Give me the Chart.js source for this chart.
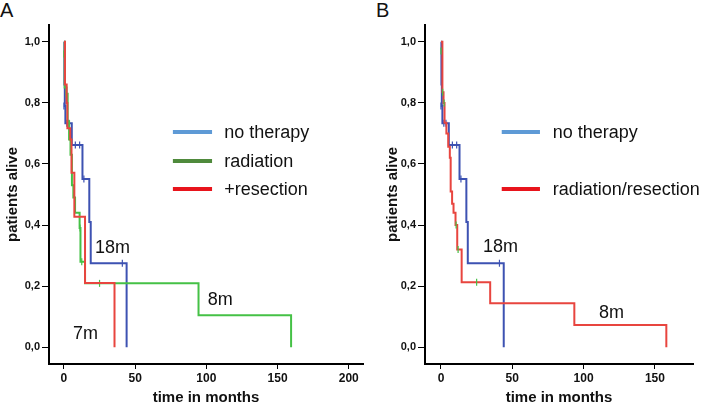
<!DOCTYPE html>
<html>
<head>
<meta charset="utf-8">
<script src="https://cdn.jsdelivr.net/npm/chart.js@4.4.0/dist/chart.umd.min.js"></script>
<style>
  html, body { margin: 0; padding: 0; background: #fff; overflow: hidden; }
  body { width: 707px; height: 405px; position: relative; font-family: "Liberation Sans", Arial, sans-serif; }
  canvas { position: absolute; top: 0; }
  #chartA { left: 0; }
  #chartB { left: 360px; }
  .tag { position: absolute; top: 0; font-size: 20px; line-height: 20px; color: #111; }
</style>
</head>
<body>
<div class="tag" style="left:0">A</div>
<div class="tag" style="left:376px">B</div>
<canvas id="chartA" width="370" height="405"></canvas>
<canvas id="chartB" width="347" height="405"></canvas>
<script>
/* ── Kaplan-Meier data (months / fraction alive) ── */

// no therapy (same curve in both panels)
const noTherapyTime = [0, 0.3, 0.6, 1, 5.5, 13, 17.8, 18.8, 44];
const noTherapySurv = [1.0, 0.86, 0.79, 0.733, 0.662, 0.551, 0.41, 0.275, 0];
const noTherapyCensTime = [0, 2, 3.5, 8, 11, 14, 41];
const noTherapyCensSurv = [0.79, 0.733, 0.733, 0.662, 0.662, 0.551, 0.275];

// panel A: radiation
const radiationTime = [0, 0.5, 1.8, 2.6, 3.6, 4.6, 5.6, 6.6, 7.8, 11, 11.6, 14.8, 94.5, 159.5];
const radiationSurv = [1.0, 0.85, 0.83, 0.74, 0.68, 0.63, 0.53, 0.49, 0.44, 0.39, 0.28, 0.209, 0.105, 0];
const radiationCensTime = [0, 1.5, 11.3, 12.5, 25];
const radiationCensSurv = [0.96, 0.83, 0.39, 0.28, 0.209];

// panel A: +resection
const resectionTime = [0, 0.7, 1.9, 2.4, 4.4, 5.3, 7.3, 14.8, 35.5];
const resectionSurv = [1.0, 0.86, 0.80, 0.717, 0.68, 0.571, 0.427, 0.21, 0];

// panel B: radiation/resection
const combinedTime = [0, 1, 1.8, 2.5, 3.8, 5.1, 6.2, 6.8, 7.8, 8.8, 10.2, 11.4, 14.5, 34.5, 93.5, 158];
const combinedSurv = [1.0, 0.835, 0.80, 0.735, 0.70, 0.656, 0.62, 0.51, 0.47, 0.44, 0.40, 0.32, 0.213, 0.144, 0.073, 0];
const combinedCensTime = [0, 1.2, 2.2, 10.6, 12, 25];
const combinedCensSurv = [0.97, 0.835, 0.80, 0.40, 0.32, 0.213];

// tick labels
const xTicksA = [0, 50, 100, 150, 200];
const xTicksB = [0, 50, 100, 150];
const yTicks  = [0, 0.2, 0.4, 0.6, 0.8, 1.0];

// legend + annotation texts
const legendA = ['no therapy', 'radiation', '+resection'];
const legendB = ['no therapy', 'radiation/resection'];
const notesA  = ['18m', '8m', '7m'];
const notesB  = ['18m', '8m'];

/* ── Colours ── */
const C = {
  blue:     '#3d52b2',
  green:    '#45c146',
  red:      '#e8453f',
  legBlue:  '#5e9ad6',
  legGreen: '#4f8a3c',
  legRed:   '#e8141c',
  ink:      '#111111',
};
const FONT = '"Liberation Sans", Arial, sans-serif';

function pts(t, s) { return t.map((v, i) => ({ x: v, y: s[i] })); }

// KM step: stay at previous level until the event time, then drop
function curve(label, t, s, color, order) {
  return {
    label, data: pts(t, s), borderColor: color, borderWidth: 2,
    stepped: 'before', pointRadius: 0, fill: false, order,
  };
}

function censor(t, s, color, order) {
  return {
    type: 'scatter', data: pts(t, s), showLine: false,
    pointStyle: 'line', rotation: 90, pointRadius: 3.5,
    borderColor: color, borderWidth: 1.2, order,
  };
}

/* ── Legend lines + text annotations drawn in data coordinates ── */
const panelText = {
  id: 'panelText',
  afterDatasetsDraw(chart, args, opts) {
    const { ctx } = chart;
    const x = chart.scales.x, y = chart.scales.y;
    ctx.save();
    ctx.font = '18px ' + FONT;
    ctx.textBaseline = 'middle';
    ctx.textAlign = 'left';
    (opts.legend || []).forEach(it => {
      const py = y.getPixelForValue(it.y);
      ctx.strokeStyle = it.color;
      ctx.lineWidth = 4;
      ctx.beginPath();
      ctx.moveTo(x.getPixelForValue(it.x0), py);
      ctx.lineTo(x.getPixelForValue(it.x1), py);
      ctx.stroke();
      ctx.fillStyle = C.ink;
      ctx.fillText(it.text, x.getPixelForValue(it.tx), py + 1);
    });
    (opts.notes || []).forEach(n => {
      ctx.fillStyle = C.ink;
      ctx.fillText(n.text, x.getPixelForValue(n.x), y.getPixelForValue(n.y));
    });
    ctx.restore();
  }
};

function axes(xMin, xMax, xTicks, yWidth, yTitlePad) {
  const tickFont = { family: FONT, size: 12, weight: 'bold' };
  const titleFont = { family: FONT, size: 15, weight: 'bold', lineHeight: 1 };
  return {
    x: {
      type: 'linear', min: xMin, max: xMax,
      afterBuildTicks: s => { s.ticks = xTicks.map(v => ({ value: v })); },
      afterFit: s => { s.height = 41; },
      ticks: { color: C.ink, font: tickFont, padding: 2, maxRotation: 0 },
      grid: { display: true, drawOnChartArea: false, drawTicks: true, tickLength: 5, color: '#000', lineWidth: 1 },
      border: { display: true, color: '#000', width: 2 },
      title: { display: true, text: 'time in months', color: C.ink, font: titleFont, padding: { top: 0, bottom: 0 } },
    },
    y: {
      type: 'linear', min: -0.055, max: 1.055,
      afterBuildTicks: s => { s.ticks = yTicks.map(v => ({ value: v })); },
      afterFit: s => { s.width = yWidth; },
      ticks: { color: C.ink, font: { family: FONT, size: 11, weight: 'bold' }, padding: 2,
               callback: v => v.toFixed(1).replace('.', ',') },
      grid: { display: true, drawOnChartArea: false, drawTicks: true, tickLength: 7, color: '#000', lineWidth: 1 },
      border: { display: true, color: '#000', width: 2 },
      title: { display: true, text: 'patients alive', color: C.ink, font: titleFont, padding: { top: yTitlePad, bottom: 0 } },
    },
  };
}

function makePanel(id, datasets, scales, padRight, text) {
  return new Chart(document.getElementById(id), {
    type: 'line',
    data: { datasets },
    options: {
      responsive: false, animation: false, devicePixelRatio: 1,
      layout: { padding: { left: 0, top: 25, right: padRight, bottom: 0 } },
      plugins: { legend: { display: false }, tooltip: { enabled: false }, panelText: text },
      scales,
    },
    plugins: [panelText],
  });
}

/* ── Panel A ── */
makePanel('chartA', [
  curve(legendA[2], resectionTime, resectionSurv, C.red, 1),
  censor(radiationCensTime, radiationCensSurv, C.green, 2),
  curve(legendA[1], radiationTime, radiationSurv, C.green, 3),
  censor(noTherapyCensTime, noTherapyCensSurv, C.blue, 4),
  curve(legendA[0], noTherapyTime, noTherapySurv, C.blue, 5),
], axes(-10.5, 210, xTicksA, 49, 5), 7, {
  legend: [
    { text: legendA[0], color: C.legBlue,  x0: 76.5, x1: 104, tx: 112.5, y: 0.705 },
    { text: legendA[1], color: C.legGreen, x0: 76.5, x1: 104, tx: 112.5, y: 0.61 },
    { text: legendA[2], color: C.legRed,   x0: 76.5, x1: 104, tx: 112.5, y: 0.518 },
  ],
  notes: [
    { text: notesA[0], x: 21.8, y: 0.325 },
    { text: notesA[1], x: 101,  y: 0.155 },
    { text: notesA[2], x: 6.3,  y: 0.044 },
  ],
});

/* ── Panel B ── */
makePanel('chartB', [
  censor(combinedCensTime, combinedCensSurv, C.green, 0),
  curve(legendB[1], combinedTime, combinedSurv, C.red, 1),
  censor(noTherapyCensTime, noTherapyCensSurv, C.blue, 2),
  curve(legendB[0], noTherapyTime, noTherapySurv, C.blue, 3),
], axes(-11.2, 176.7, xTicksB, 65, 25), 14, {
  legend: [
    { text: legendB[0], color: C.legBlue, x0: 42.6, x1: 69.4, tx: 78.3, y: 0.705 },
    { text: legendB[1], color: C.legRed,  x0: 42.6, x1: 69.4, tx: 78.3, y: 0.518 },
  ],
  notes: [
    { text: notesB[0], x: 29.5,  y: 0.328 },
    { text: notesB[1], x: 110.8, y: 0.112 },
  ],
});
</script>
</body>
</html>
